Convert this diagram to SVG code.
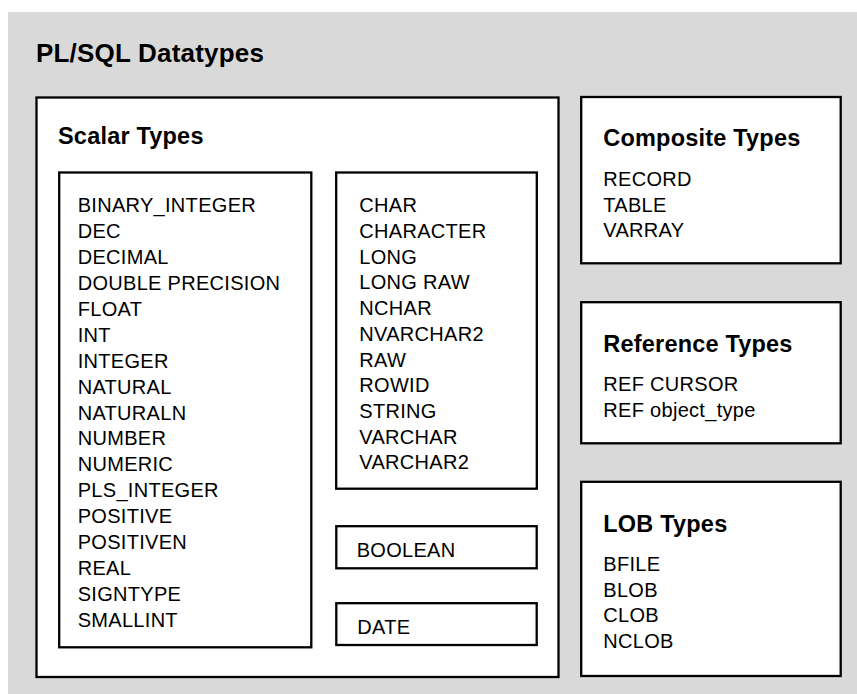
<svg xmlns="http://www.w3.org/2000/svg" width="857" height="694" viewBox="0 0 857 694">
  <style>
    .box { fill: #ffffff; stroke: #000000; stroke-width: 2.3; }
    .t { font-family: "Liberation Sans", Arial, Helvetica, sans-serif; font-size: 20px; letter-spacing: 0.3px; fill: #000000; }
    .h { font-family: "Liberation Sans", Arial, Helvetica, sans-serif; font-size: 23.5px; font-weight: bold; letter-spacing: 0.2px; fill: #000000; }
    .title { font-family: "Liberation Sans", Arial, Helvetica, sans-serif; font-size: 26px; font-weight: bold; letter-spacing: 0.2px; fill: #000000; }
  </style>
  <rect x="8" y="12" width="849" height="682" fill="#d9d9d9"/>
  <text class="title" x="36" y="62">PL/SQL Datatypes</text>

  <g id="scalar-types">
    <rect class="box" x="36.5" y="97.5" width="522" height="579.5"/>
    <text class="h" x="58" y="144">Scalar Types</text>
  </g>

  <g id="numeric-types">
    <rect class="box" x="59.2" y="172.5" width="252.1" height="474.8"/>
    <text class="t" x="77.7" y="212.3">BINARY_INTEGER</text>
    <text class="t" x="77.7" y="238.2">DEC</text>
    <text class="t" x="77.7" y="264.1">DECIMAL</text>
    <text class="t" x="77.7" y="290">DOUBLE PRECISION</text>
    <text class="t" x="77.7" y="315.9">FLOAT</text>
    <text class="t" x="77.7" y="341.8">INT</text>
    <text class="t" x="77.7" y="367.7">INTEGER</text>
    <text class="t" x="77.7" y="393.6">NATURAL</text>
    <text class="t" x="77.7" y="419.5">NATURALN</text>
    <text class="t" x="77.7" y="445.4">NUMBER</text>
    <text class="t" x="77.7" y="471.3">NUMERIC</text>
    <text class="t" x="77.7" y="497.2">PLS_INTEGER</text>
    <text class="t" x="77.7" y="523.1">POSITIVE</text>
    <text class="t" x="77.7" y="549">POSITIVEN</text>
    <text class="t" x="77.7" y="574.9">REAL</text>
    <text class="t" x="77.7" y="600.8">SIGNTYPE</text>
    <text class="t" x="77.7" y="626.7">SMALLINT</text>
  </g>

  <g id="character-types">
    <rect class="box" x="336.2" y="172.5" width="200.6" height="316.2"/>
    <text class="t" x="359.3" y="212.3">CHAR</text>
    <text class="t" x="359.3" y="238">CHARACTER</text>
    <text class="t" x="359.3" y="263.7">LONG</text>
    <text class="t" x="359.3" y="289.4">LONG RAW</text>
    <text class="t" x="359.3" y="315.1">NCHAR</text>
    <text class="t" x="359.3" y="340.8">NVARCHAR2</text>
    <text class="t" x="359.3" y="366.5">RAW</text>
    <text class="t" x="359.3" y="392.2">ROWID</text>
    <text class="t" x="359.3" y="417.9">STRING</text>
    <text class="t" x="359.3" y="443.6">VARCHAR</text>
    <text class="t" x="359.3" y="469.3">VARCHAR2</text>
  </g>

  <g id="boolean-type">
    <rect class="box" x="336.3" y="526.2" width="200.4" height="42.1"/>
    <text class="t" x="356.7" y="557.3">BOOLEAN</text>
  </g>

  <g id="date-type">
    <rect class="box" x="336.3" y="603.2" width="200.4" height="41.8"/>
    <text class="t" x="357.3" y="634">DATE</text>
  </g>

  <g id="composite-types">
    <rect class="box" x="581.2" y="97" width="259.5" height="166.3"/>
    <text class="h" x="603.3" y="146">Composite Types</text>
    <text class="t" x="603.3" y="186">RECORD</text>
    <text class="t" x="603.3" y="211.7">TABLE</text>
    <text class="t" x="603.3" y="237.4">VARRAY</text>
  </g>

  <g id="reference-types">
    <rect class="box" x="581.2" y="302.2" width="259.5" height="141.1"/>
    <text class="h" x="603.3" y="351.7">Reference Types</text>
    <text class="t" x="603.3" y="390.7">REF CURSOR</text>
    <text class="t" x="603.3" y="416.7">REF object_type</text>
  </g>

  <g id="lob-types">
    <rect class="box" x="581.2" y="481.8" width="259.5" height="194.2"/>
    <text class="h" x="603.3" y="531.7">LOB Types</text>
    <text class="t" x="603.3" y="571">BFILE</text>
    <text class="t" x="603.3" y="596.7">BLOB</text>
    <text class="t" x="603.3" y="622.4">CLOB</text>
    <text class="t" x="603.3" y="648.1">NCLOB</text>
  </g>

  <g id="connectors"/>
</svg>
